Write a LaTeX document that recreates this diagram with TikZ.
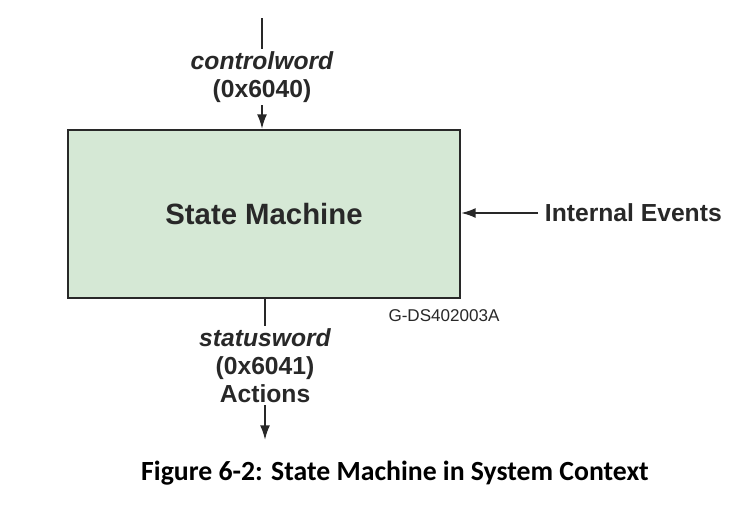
\documentclass[tikz,border=0pt]{standalone}
\usepackage{fontspec}
\setmainfont{Liberation Sans}
\newfontfamily\capfont{Carlito}
\usepackage{xcolor}
\usepackage{tikz}
\usetikzlibrary{arrows.meta, positioning, calc}
\definecolor{smgreen}{RGB}{213,232,213}
\definecolor{inkgray}{RGB}{40,40,40}

\begin{document}
\begin{tikzpicture}[
    x=0.75pt, y=-0.75pt,
    smbox/.style={rectangle, draw=inkgray, line width=1.5pt, fill=smgreen, minimum width=294pt, minimum height=126pt, text=inkgray, font=\fontsize{22}{26}\selectfont\bfseries},
    flow/.style={draw=inkgray, line width=1.5pt, -{Latex[length=11pt, width=7.5pt]}},
    lbl/.style={fill=white, text=inkgray, align=center, inner sep=2pt, font=\fontsize{18.5}{21}\selectfont\bfseries},
    tag/.style={text=inkgray, font=\fontsize{12.8}{14}\selectfont},
    caption/.style={font=\capfont\fontsize{20.8}{24}\selectfont\bfseries}
]
    % Page frame
    \useasboundingbox (0,0) rectangle (743,515);

    % State machine block
    \node [smbox] (sm) at (264,214) {State Machine};

    % Input from control word
    \coordinate (ctrltop) at (262,18);
    \draw [flow] (ctrltop) -- node [lbl, pos=0.53] (ctrl) {\itshape controlword\\(0x6040)} (sm.north -| ctrltop);

    % Internal events
    \node [lbl, anchor=west, inner sep=5pt] (events) at (538,213) {Internal Events};
    \draw [flow] (events.west) -- (events.west -| sm.east);

    % Output to status word
    \coordinate (statbot) at (265,440);
    \draw [flow] (sm.south -| statbot) -- node [lbl, pos=0.47] (stat) {\itshape statusword\\(0x6041)\\Actions} (statbot);

    % Drawing number
    \node [tag] (drawno) at (444,316) {G-DS402003A};

    % Figure caption
    \node [caption, anchor=base] (figcap) at (395,480) {Figure 6-2: State Machine in System Context};

\end{tikzpicture}
\end{document}
